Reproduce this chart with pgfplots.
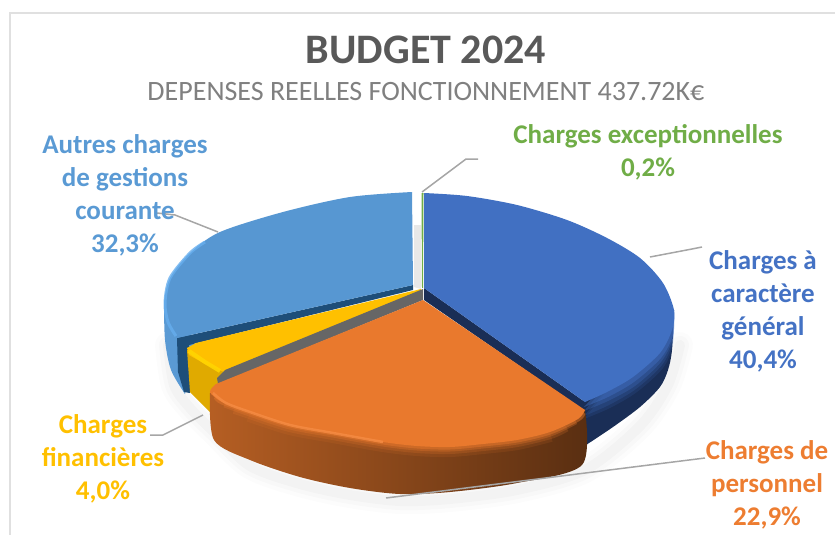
\documentclass[border=0pt]{standalone}
\usepackage{fontspec}
\setmainfont{Carlito}
\usepackage{pgfplots}
\pgfplotsset{compat=1.18}
\definecolor{bluetop}{HTML}{4170C2}
\definecolor{blueside}{HTML}{1A2E56}
\definecolor{skytop}{HTML}{5797D2}
\definecolor{skyside}{HTML}{5A9AD4}
\definecolor{skyhi}{HTML}{66AEEE}
\definecolor{skycut}{HTML}{1E4E79}
\definecolor{yeltop}{HTML}{FFC000}
\definecolor{yelhi}{HTML}{FFD500}
\definecolor{yelside}{HTML}{E0AA00}
\definecolor{orgtop}{HTML}{E9792D}
\definecolor{orghi}{HTML}{F68C44}
\definecolor{leader}{HTML}{A6A6A6}
\definecolor{txtgreen}{HTML}{70AD47}
\definecolor{txtorange}{HTML}{ED7D31}
\definecolor{txtblue}{HTML}{4472C4}
\newcommand{\lab}[1]{\bfseries\fontsize{27}{33}\selectfont\color{#1}}
\begin{document}
\begin{tikzpicture}
\begin{axis}[
  width=835pt, height=535pt, scale only axis, hide axis,
  xmin=0, xmax=835, ymin=0, ymax=535, y dir=reverse,
]
% frame
\addplot[draw=black!12, line width=1.5pt] coordinates {(835,13) (10,13) (10,535)};
% soft shadow under the pie
\addplot[smooth, draw=black, opacity=0.012, line width=26pt, line cap=round] coordinates {(168,345) (174,385) (190,408) (214,432) (250,466) (300,484) (350,495) (400,501) (450,499) (517,490) (585,470) (640,426) (668,385) (680,345)};
\addplot[smooth, draw=black, opacity=0.015, line width=18pt, line cap=round] coordinates {(168,345) (174,385) (190,408) (214,432) (250,466) (300,484) (350,495) (400,501) (450,499) (517,490) (585,470) (640,426) (668,385) (680,345)};
\addplot[smooth, draw=black, opacity=0.02, line width=10pt, line cap=round] coordinates {(168,345) (174,385) (190,408) (214,432) (250,466) (300,484) (350,495) (400,501) (450,499) (517,490) (585,470) (640,426) (668,385) (680,345)};
\addplot[fill=black!9, draw=none] coordinates {(414,225) (421,225) (421,289) (414,287)} --cycle;

% Autres charges, side then cut then top
\addplot[smooth, fill=skyside, draw=none] coordinates {(164,303) (165,340) (171,370) (185,394)};
\addplot[fill=skyside, draw=none] coordinates {(164,303) (172,345) (185,394) (195,340)} --cycle;
\addplot[fill=skycut, draw=none] coordinates {(177,338) (413,285) (413,290) (189,345) (190,393) (184,392) (178,372)} --cycle;
\addplot[smooth, fill=skytop, draw=none] coordinates {(412,192) (350,197) (283,212) (220,232) (190,253) (170,278) (164,303) (167,322) (177,338)};
\addplot[fill=skytop, draw=none] coordinates {(412,192) (413,285) (177,338) (200,265)} --cycle;
\addplot[smooth, draw=skyhi, opacity=0.8, line width=3pt] coordinates {(205,242) (190,253) (170,278) (165,303) (168,322) (176,336)};

% Charges financieres
\addplot[fill=yelside, draw=none] coordinates {(187,350) (190,392) (212,414) (214,392) (224,372) (196,350)} --cycle;
\addplot[fill=yeltop, draw=none] coordinates {(421,289) (196,343) (187,348) (189,355) (205,364) (224,372) (421,292)} --cycle;
\addplot[draw=yelhi, line width=4pt, opacity=0.9] coordinates {(189,351) (205,362) (220,371)};
\addplot[fill=black!60, draw=none] coordinates {(423,289) (423,300) (218,384) (217,378) (225,370)} --cycle;

% Charges a caractere general
\addplot[smooth, fill=blueside, draw=none] coordinates {(674,310) (672,350) (668,370) (660,387) (640,407) (613,427) (583,447)};
\addplot[fill=blueside, draw=none] coordinates {(674,310) (640,390) (583,447) (583,400)} --cycle;
\addplot[fill=blueside, draw=none] coordinates {(424,288) (585,402) (585,411) (424,300)} --cycle;
\addplot[smooth, fill=bluetop, draw=none, opacity=0.15] coordinates {(674,310) (673,344) (663,368) (637,392) (610,408) (584,419)};
\addplot[smooth, fill=bluetop, draw=none, opacity=0.2] coordinates {(674,310) (673,341) (662,365) (636,389) (609,405) (584,416)};
\addplot[smooth, fill=bluetop, draw=none, opacity=0.3] coordinates {(674,310) (673,338) (661,362) (635,386) (608,401) (584,411)};
\addplot[smooth, fill=bluetop, draw=none, opacity=0.45] coordinates {(674,310) (673,335) (661,358) (634,382) (608,397) (584,407)};
\addplot[smooth, fill=bluetop, draw=none] coordinates {(424,193) (467,196) (517,205) (567,220) (607,238) (640,258) (663,283) (674,310) (672,330) (660,353) (633,377) (607,392) (585,402)};
\addplot[fill=bluetop, draw=none] coordinates {(424,193) (424,288) (585,402) (620,300)} --cycle;
\addplot[fill=txtgreen, draw=none] coordinates {(421.5,193) (423.5,193) (423,288) (422,288)} --cycle;

% Charges de personnel
\addplot[smooth, draw=none, left color=orgtop!78!black, middle color=orgtop!62!black, right color=orgtop!38!black] coordinates {(210,393) (214,440) (250,460) (300,477) (350,488) (400,494) (450,492) (517,483) (582,465) (585,410)};
\addplot[smooth, draw=orgtop, opacity=0.12, line width=20pt] coordinates {(250,412) (290,425) (333,433) (383,442) (417,446) (450,447) (483,444) (517,440) (550,432)};
\addplot[smooth, draw=orgtop, opacity=0.2, line width=14pt] coordinates {(235,407) (250,412) (290,425) (333,433) (383,442) (417,446) (450,447) (483,444) (517,440) (550,432) (565,425)};
\addplot[smooth, draw=orgtop, opacity=0.3, line width=9pt] coordinates {(225,403) (250,412) (290,425) (333,433) (383,442) (417,446) (450,447) (483,444) (517,440) (550,432) (575,420)};
\addplot[smooth, draw=orgtop, opacity=0.45, line width=5pt] coordinates {(216,397) (222,402) (250,412) (290,425) (333,433) (383,442) (417,446) (450,447) (483,444) (517,440) (550,432) (578,419) (583,413)};
\addplot[smooth, fill=orgtop, draw=none] coordinates {(216,384) (210,392) (222,402) (250,412) (290,425) (333,433) (383,442) (417,446) (450,447) (483,444) (517,440) (550,432) (578,419) (585,410)};
\addplot[fill=orgtop, draw=none] coordinates {(216,384) (423,300) (585,410) (400,430)} --cycle;
\addplot[smooth, draw=orghi, opacity=0.8, line width=2.5pt] coordinates {(213,393) (226,403) (250,412) (290,425) (333,433) (383,442)};

% leader lines
\addplot[draw=leader, line width=1.5pt] coordinates {(422,192) (466,159) (478,159)};
\addplot[draw=leader, line width=1.5pt] coordinates {(650,257) (692,249) (702,247)};
\addplot[draw=leader, line width=1.5pt] coordinates {(218,232) (175,215) (157,213)};
\addplot[draw=leader, line width=1.5pt] coordinates {(203,415) (163,435) (150,435)};
\addplot[draw=leader, line width=1.5pt] coordinates {(386,498) (705,458)};

% titles and labels
\node[font=\bfseries\fontsize{42}{44}\selectfont, text=black!65] at (axis cs:426,50) {BUDGET 2024};
\node[font=\fontsize{28}{30}\selectfont, text=black!50] at (axis cs:426,92) {DEPENSES REELLES FONCTIONNEMENT 437.72K€};
\node[align=center, font=\lab{skyside}] at (axis cs:125,195) {Autres charges\\de gestions\\courante\\32,3\%};
\node[align=center, font=\lab{txtgreen}] at (axis cs:648,152) {Charges exceptionnelles\\0,2\%};
\node[align=center, font=\lab{txtblue}] at (axis cs:763,311) {Charges à\\caractère\\général\\40,4\%};
\node[align=center, font=\lab{txtorange}] at (axis cs:767,485) {Charges de\\personnel\\22,9\%};
\node[align=center, font=\lab{yeltop}] at (axis cs:103,459) {Charges\\financières\\4,0\%};
\end{axis}
\pgfresetboundingbox
\path[use as bounding box] (0,0) rectangle (835pt,535pt);
\end{tikzpicture}
\end{document}
